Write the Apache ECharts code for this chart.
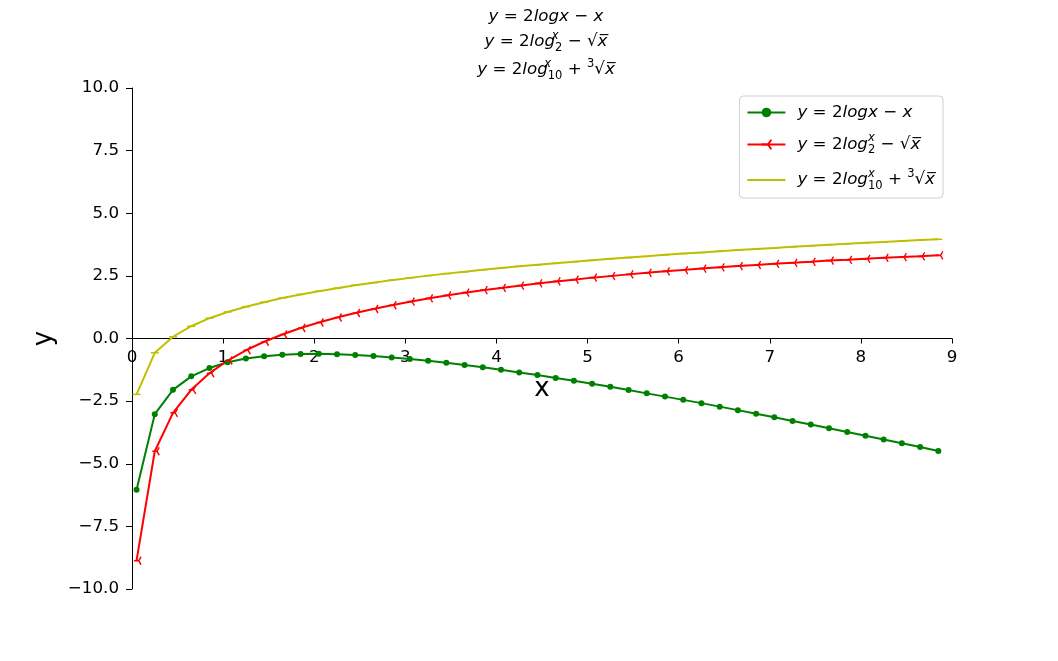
<!DOCTYPE html>
<html>
<head>
<meta charset="utf-8">
<script src="https://cdn.jsdelivr.net/npm/echarts@6/dist/echarts.min.js"></script>
<style>
  html, body { margin: 0; padding: 0; background: #fff; }
  #chart { width: 1058px; height: 661px; }
</style>
</head>
<body>
<div id="chart"></div>
<script>
// x samples, 0.05 .. 8.85 step 0.2
const xs = [0.05, 0.25, 0.45, 0.65, 0.85, 1.05, 1.25, 1.45, 1.65, 1.85, 2.05, 2.25, 2.45, 2.65, 2.85,
  3.05, 3.25, 3.45, 3.65, 3.85, 4.05, 4.25, 4.45, 4.65, 4.85, 5.05, 5.25, 5.45, 5.65, 5.85,
  6.05, 6.25, 6.45, 6.65, 6.85, 7.05, 7.25, 7.45, 7.65, 7.85, 8.05, 8.25, 8.45, 8.65, 8.85];

// y = 2logx - x
const lnLine = [-6.04, -3.02, -2.05, -1.51, -1.18, -0.95, -0.80, -0.71, -0.65, -0.62, -0.61, -0.63, -0.66, -0.70, -0.76,
  -0.82, -0.89, -0.97, -1.06, -1.15, -1.25, -1.36, -1.46, -1.58, -1.69, -1.81, -1.93, -2.06, -2.19, -2.32,
  -2.45, -2.58, -2.72, -2.86, -3.00, -3.14, -3.29, -3.43, -3.58, -3.73, -3.88, -4.03, -4.18, -4.33, -4.49];

// y = 2log2(x) - sqrt(x)
const log2Line = [-8.87, -4.50, -2.97, -2.05, -1.39, -0.88, -0.47, -0.13, 0.16, 0.42, 0.64, 0.84, 1.02, 1.18, 1.33,
  1.47, 1.60, 1.72, 1.83, 1.93, 2.02, 2.11, 2.20, 2.28, 2.35, 2.43, 2.49, 2.56, 2.62, 2.68,
  2.73, 2.79, 2.84, 2.89, 2.93, 2.98, 3.02, 3.06, 3.11, 3.14, 3.18, 3.22, 3.25, 3.28, 3.32];

// y = 2log10(x) + cbrt(x)
const log10Line = [-2.23, -0.57, 0.07, 0.49, 0.81, 1.06, 1.27, 1.45, 1.62, 1.76, 1.89, 2.01, 2.13, 2.23, 2.33,
  2.42, 2.51, 2.59, 2.66, 2.74, 2.81, 2.88, 2.94, 3.00, 3.06, 3.12, 3.18, 3.23, 3.28, 3.34,
  3.39, 3.43, 3.48, 3.53, 3.57, 3.61, 3.66, 3.70, 3.74, 3.78, 3.82, 3.85, 3.89, 3.93, 3.96];

const yTickLabels = ['−10.0', '−7.5', '−5.0', '−2.5', '0.0', '2.5', '5.0', '7.5', '10.0'];

const pairs = ys => xs.map((x, i) => [x, ys[i]]);

const font = 'DejaVu Sans';
const base = { fontFamily: font, fontWeight: 'normal', color: '#000' };
const rich = {
  it: { ...base, fontStyle: 'italic', fontSize: 16.7, lineHeight: 24 },
  n: { ...base, fontSize: 16.7, lineHeight: 24 },
  sup: { ...base, fontStyle: 'italic', fontSize: 11.5, lineHeight: 12, verticalAlign: 'top', width: 0 },
  sub: { ...base, fontSize: 11.5, lineHeight: 12, verticalAlign: 'bottom' },
  sup3: { ...base, fontSize: 11.5, lineHeight: 12, verticalAlign: 'top' },
  ov: { ...base, fontStyle: 'italic', fontSize: 16.7, lineHeight: 24 },
  sp: { ...base, fontSize: 16.7, lineHeight: 24, width: 7 }
};

const labels = {
  ln: '{it|y}{n| = 2}{it|logx}{n| − }{it|x}',
  log2: '{it|y}{n| = 2}{it|log}{sup|x}{sub|2}{n| − √}{ov|x\u0305}',
  log10: '{it|y}{n| = 2}{it|log}{sup|x}{sub|10}{n| + }{sup3|3}{n|√}{ov|x\u0305}'
};

const chart = echarts.init(document.getElementById('chart'));

chart.setOption({
  animation: false,
  backgroundColor: '#fff',
  title: [
    { text: labels.ln, left: 541, top: 0, textAlign: 'center', textStyle: { ...base, rich } },
    { text: labels.log2, left: 541, top: 25, textAlign: 'center', textStyle: { ...base, rich } },
    { text: labels.log10, left: 541, top: 53, textAlign: 'center', textStyle: { ...base, rich } }
  ],
  legend: {
    orient: 'vertical',
    right: 115,
    top: 96,
    padding: [8, 8, 6, 7],
    itemWidth: 38,
    itemHeight: 12,
    itemGap: 11.5,
    backgroundColor: 'rgba(255,255,255,0.8)',
    borderColor: '#d0d0d0',
    borderWidth: 1,
    borderRadius: 4,
    data: [
      { name: 'ln' },
      { name: 'log2' },
      { name: 'log10', itemStyle: { opacity: 0 } }
    ],
    formatter: name => '{sp|}' + labels[name],
    textStyle: { ...base, rich }
  },
  grid: { left: 132, right: 106, top: 88, bottom: 72 },
  xAxis: {
    type: 'value',
    min: 0,
    max: 9,
    interval: 1,
    offset: -250.5,
    name: 'x',
    nameLocation: 'middle',
    nameGap: 38,
    nameTextStyle: { fontFamily: font, fontSize: 26, color: '#000' },
    axisLine: { onZero: false, lineStyle: { color: '#000', width: 1 } },
    axisTick: { show: true, length: 5, lineStyle: { color: '#000' } },
    axisLabel: { fontFamily: font, fontSize: 16.7, color: '#000', margin: 11 },
    splitLine: { show: false }
  },
  yAxis: {
    type: 'value',
    min: -10,
    max: 10,
    interval: 2.5,
    name: 'y',
    nameLocation: 'middle',
    nameRotate: 90,
    nameGap: 67,
    nameTextStyle: { fontFamily: font, fontSize: 26, color: '#000' },
    axisLine: { show: true, lineStyle: { color: '#000', width: 1 } },
    axisTick: { show: true, length: 6, lineStyle: { color: '#000' } },
    axisLabel: {
      fontFamily: font, fontSize: 16.7, color: '#000', margin: 13,
      formatter: v => yTickLabels[Math.round((v + 10) / 2.5)]
    },
    splitLine: { show: false }
  },
  series: [
    {
      name: 'ln',
      type: 'line',
      data: pairs(lnLine),
      color: '#008000',
      lineStyle: { width: 2 },
      symbol: 'circle',
      symbolSize: 6,
      showAllSymbol: true
    },
    {
      name: 'log2',
      type: 'line',
      data: pairs(log2Line),
      color: '#ff0000',
      lineStyle: { width: 2 },
      symbol: 'path://M0,0 L-1,0 M0,0 L0.5,-0.87 M0,0 L0.5,0.87',
      symbolSize: [7, 8],
      symbolOffset: [1, 0],
      itemStyle: { color: '#ff0000', borderColor: '#ff0000', borderWidth: 1.5 },
      showAllSymbol: true
    },
    {
      name: 'log10',
      type: 'line',
      data: pairs(log10Line),
      color: '#bfbf00',
      lineStyle: { width: 2 },
      symbol: 'rect',
      symbolSize: [8, 1.5],
      showAllSymbol: true
    }
  ]
});
</script>
</body>
</html>
